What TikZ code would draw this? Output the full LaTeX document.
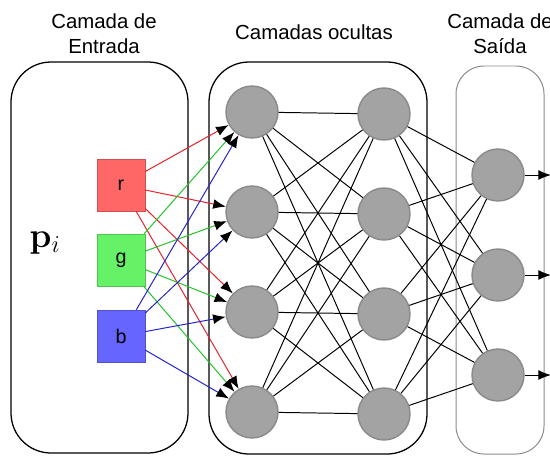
\documentclass[tikz,border=0pt]{standalone}
\usepackage[no-math]{fontspec}
\setmainfont{Liberation Sans}
\usetikzlibrary{arrows.meta}
\definecolor{neurongray}{HTML}{A3A3A3}
\definecolor{neuronline}{HTML}{8A8A8A}
\definecolor{rfill}{HTML}{FF6666}
\definecolor{gfill}{HTML}{66F266}
\definecolor{bfill}{HTML}{6666FF}
\definecolor{rline}{HTML}{E8202A}
\definecolor{gline}{HTML}{22C22A}
\definecolor{bline}{HTML}{2222D0}
\begin{document}
\begin{tikzpicture}[x=0.025cm, y=-0.025cm,
  neuron/.style={circle, fill=neurongray, draw=neuronline, line width=1pt, minimum size=1.3cm, inner sep=0pt},
  pixbox/.style={draw=#1!80!black, fill=#1, line width=0.4pt, minimum width=1.2cm, minimum height=1.3cm, inner sep=0pt, font=\fontsize{14}{16}\selectfont},
  title/.style={align=center, font=\fontsize{14.5}{17.5}\selectfont},
  layer/.style={draw, line width=0.9pt, rounded corners=1cm},
  link/.style={line width=0.7pt},
  feed/.style={line width=0.7pt, -{Latex[length=9pt, width=7pt, color=black]}}]
\useasboundingbox (0,0) rectangle (550,455);
% layer frames
\draw[layer] (11,62) rectangle (188,453);
\draw[layer] (209,62) rectangle (427,454);
\draw[layer, draw=neuronline, line width=0.7pt, rounded corners=0.7cm] (456,66) rectangle (544,454);
% titles
\node[title] (tin) at (104,34) {Camada de\\Entrada};
\node[title] (thid) at (314,32) {Camadas ocultas};
\node[title] (tout) at (500,34) {Camada de\\Saída};
% input
\node[font=\fontsize{26}{30}\selectfont] (p) at (45,243) {$\mathbf{p}_i$};
\node[pixbox=rfill] (r) at (121,185) {r};
\node[pixbox=gfill] (g) at (121,260) {g};
\node[pixbox=bfill] (b) at (121,336) {b};
% neurons
\foreach \i/\y in {1/112, 2/212, 3/312, 4/412} {
  \node[neuron] (h\i) at (252,\y) {};
  \node[neuron] (k\i) at (384,\y+2) {};
}
\foreach \i/\y in {1/175, 2/275, 3/375} {
  \node[neuron] (o\i) at (498,\y) {};
  \coordinate (e\i) at (551,\y);
}
% connections
\foreach \i in {1,...,4} {
  \foreach \j in {1,...,4} \draw[link] (h\i) -- (k\j);
  \foreach \j in {1,...,3} \draw[link] (k\i) -- (o\j);
}
\foreach \c/\n in {rline/r, gline/g, bline/b} {
  \foreach \j in {1,...,4} \draw[feed, \c] (\n) -- (h\j);
}
\foreach \j in {1,...,3} \draw[feed] (o\j) -- (e\j);
\end{tikzpicture}
\end{document}
